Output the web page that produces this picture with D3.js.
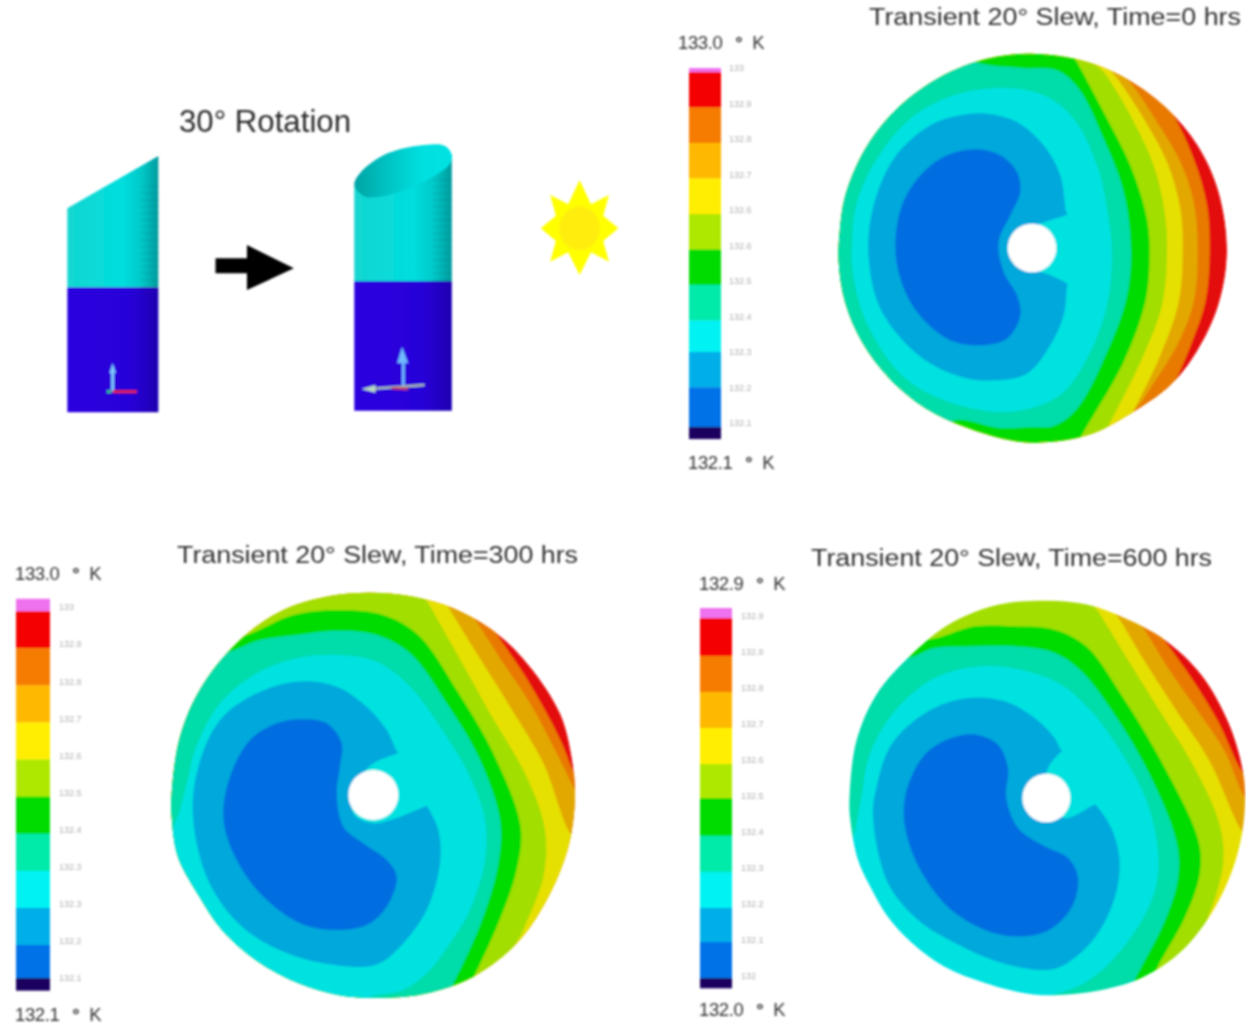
<!DOCTYPE html>
<html><head><meta charset="utf-8">
<script src="https://cdn.jsdelivr.net/npm/d3@7/dist/d3.min.js"></script>
<style>html,body{margin:0;background:#fff}svg{display:block}</style></head>
<body><svg id="c" width="1246" height="1024"></svg>
<script>
// ---- legend colours, hot to cold
const legendColors=["#ee72ee","#f40000","#f57c00","#ffb800","#ffee00","#aee800","#00dc00","#00eaaa","#00f2f2","#00aee8","#0072e8","#1a0060"];
const discColors=["#e40808","#e87a06","#e2a800","#e6e000","#a2de00","#00dc00","#00dcaa","#00e2e0","#00a8dc","#006ee0"];
// ---- legend level edges in kelvin
const edges0=[133.00,132.99,132.90,132.81,132.72,132.63,132.54,132.45,132.36,132.28,132.19,132.09,132.06];
const edges300=[133.02,132.99,132.90,132.81,132.72,132.63,132.54,132.45,132.36,132.27,132.18,132.10,132.07];
const edges600=[132.92,132.895,132.80,132.71,132.62,132.53,132.445,132.35,132.26,132.17,132.085,131.995,131.97];
const ticks0=[133,132.91,132.82,132.73,132.64,132.55,132.46,132.37,132.28,132.19,132.1];
const labels0=["133","132.9","132.8","132.7","132.6","132.6","132.5","132.4","132.3","132.2","132.1"];
const ticks300=[133,132.91,132.82,132.73,132.64,132.55,132.46,132.37,132.28,132.19,132.1];
const labels300=["133","132.9","132.8","132.7","132.6","132.5","132.4","132.3","132.3","132.2","132.1"];
const ticks600=[132.9,132.81,132.72,132.63,132.54,132.45,132.36,132.27,132.18,132.09,132];
const labels600=["132.9","132.8","132.8","132.7","132.6","132.5","132.4","132.3","132.2","132.1","132"];
// ---- titles
const titleTexts=["Transient 20° Slew, Time=0 hrs","Transient 20° Slew, Time=300 hrs","Transient 20° Slew, Time=600 hrs"];
const maxLabels=["133.0","133.0","132.9"];
const minLabels=["132.1","132.1","132.0"];
const rotationLabel="30° Rotation";
// ---- region beyond the disc, used to close the isotherms (crop units)
const offDisc=[[1420,1420],[-200,1420],[-200,-200],[700,-200]];
// ---- T=0 isotherms, crop units
const outline0=[[580,5],[720,22],[850,70],[985,165],[1082,280],[1145,420],[1170,600],[1144,760],[1079,900],[1000,1000],[880,1085],[750,1150],[600,1172],[516,1164],[384,1125],[264,1068],[156,978],[75,870],[24,750],[5,630],[8,540],[25,430],[85,290],[180,170],[310,75],[450,20]];
const iso0a=[[960,130],[1000,175],[1070,320],[1110,460],[1118,600],[1105,750],[1065,870],[1020,975],[980,1040]];
const iso0b=[[850,60],[890,105],[960,210],[1030,330],[1070,450],[1082,600],[1070,750],[1020,880],[920,1040],[880,1110]];
const iso0c=[[810,40],[845,85],[920,200],[990,330],[1030,470],[1037,600],[1025,750],[970,910],[885,1085],[850,1150]];
const iso0d=[[760,20],[800,60],[880,190],[950,340],[983,480],[990,600],[975,760],[915,920],[810,1130],[780,1190]];
const iso0e=[[690,-20],[720,30],[800,180],[880,340],[930,500],[938,620],[925,750],[860,930],[735,1150],[700,1220]];
const iso0f=[[400,25],[550,48],[660,55],[725,110],[800,260],[860,420],[882,600],[868,740],[810,900],[720,1070],[650,1122],[585,1125],[486,1128],[354,1105],[250,1170],[-100,600],[300,-60]];
const iso0g=[[500,108],[620,130],[710,200],[780,340],[815,500],[825,620],[810,760],[760,900],[680,1020],[585,1068],[486,1080],[336,1050],[204,978],[96,828],[50,680],[45,580],[60,450],[120,320],[220,200],[350,130]];
const iso0h=[[450,185],[540,210],[620,280],[670,370],[688,480],[692,486],[686,490],[640,505],[575,530],[510,590],[560,640],[640,670],[686,692],[692,697],[690,704],[680,790],[640,880],[570,965],[470,985],[384,978],[255,918],[135,780],[96,630],[105,480],[170,320],[280,220],[370,190]];
const iso0i=[[420,292],[490,310],[540,360],[550,420],[520,490],[485,570],[500,660],[540,730],[550,790],[510,860],[420,880],[330,860],[240,780],[190,680],[175,580],[195,460],[250,370],[330,310]];
// ---- T=300 isotherms, crop units
const outline300=[[600,8],[730,20],[850,55],[980,130],[1080,230],[1170,370],[1205,500],[1215,620],[1195,770],[1130,930],[1040,1060],[910,1160],[760,1212],[615,1224],[504,1215],[384,1179],[260,1112],[156,1020],[85,915],[24,801],[5,681],[5,610],[30,440],[95,290],[210,150],[340,60],[480,18]];
const iso300a=[[950,90],[985,140],[1060,250],[1130,370],[1180,470],[1212,550],[1260,620]];
const iso300b=[[880,50],[915,90],[1000,220],[1080,340],[1150,470],[1215,600],[1260,680]];
const iso300c=[[810,10],[840,60],[920,190],[1020,350],[1120,520],[1200,730],[1260,800]];
const iso300d=[[750,0],[775,40],[860,190],[960,370],[1070,560],[1125,720],[1120,860],[1060,1020],[1020,1120]];
const iso300e=[[200,140],[370,75],[500,60],[640,75],[745,135],[860,300],[970,490],[1052,710],[1040,840],[985,1000],[910,1165],[860,1270],[100,1320],[-100,600],[50,100]];
const iso300f=[[150,190],[270,150],[380,135],[500,122],[620,135],[720,190],[830,340],[930,510],[990,690],[985,820],[940,980],[850,1180],[800,1270],[100,1320],[-100,600],[0,150]];
const iso300g=[[380,205],[500,195],[620,215],[720,290],[830,440],[900,560],[945,690],[945,810],[900,960],[840,1060],[770,1150],[700,1200],[620,1216],[500,1245],[300,1190],[100,1000],[-10,790],[30,660],[55,560],[75,480],[150,340],[260,250]];
const iso300h=[[380,275],[500,290],[590,350],[650,420],[680,482],[685,487],[679,491],[610,520],[560,580],[550,670],[610,700],[762,651],[770,648],[775,655],[805,720],[810,820],[770,960],[690,1070],[615,1125],[456,1119],[315,1074],[204,999],[114,870],[69,681],[85,530],[150,390],[260,310]];
const iso300i=[[390,388],[470,400],[515,460],[510,530],[500,610],[520,710],[580,760],[650,810],[680,860],[650,950],[590,1005],[490,1020],[390,1000],[270,910],[190,790],[160,680],[180,560],[240,450],[320,400]];
// ---- T=600 isotherms, crop units
const outline600=[[600,8],[720,20],[830,60],[950,125],[1060,230],[1140,370],[1185,520],[1190,640],[1165,780],[1100,930],[1000,1060],[880,1140],[740,1180],[600,1192],[531,1186],[411,1155],[291,1107],[192,1035],[120,957],[72,876],[30,786],[6,657],[5,590],[25,430],[85,290],[190,170],[310,75],[450,20]];
const iso600a=[[920,90],[955,135],[1030,240],[1110,370],[1175,510],[1230,590]];
const iso600b=[[850,50],[885,90],[960,210],[1050,340],[1130,460],[1185,590],[1240,670]];
const iso600c=[[780,15],[815,65],[890,190],[980,330],[1085,490],[1175,690],[1230,770]];
const iso600d=[[720,0],[750,40],[830,170],[930,330],[1040,510],[1115,680],[1125,800],[1075,970],[1040,1030],[990,1110]];
const iso600e=[[230,125],[380,85],[500,85],[620,95],[715,145],[820,290],[940,490],[1052,730],[1055,830],[1010,960],[925,1115],[880,1230],[100,1270],[-100,600],[50,80]];
const iso600f=[[170,180],[260,150],[380,145],[500,145],[620,165],[700,220],[800,350],[900,520],[985,730],[990,840],[950,970],[860,1145],[820,1230],[100,1270],[-100,600],[0,100]];
const iso600g=[[400,205],[520,215],[640,260],[730,340],[830,480],[900,620],[930,760],[925,860],[880,970],[780,1100],[690,1165],[580,1195],[400,1190],[250,1090],[100,950],[5,800],[25,680],[40,600],[65,470],[140,340],[260,240]];
const iso600h=[[360,300],[470,310],[560,360],[620,420],[637,453],[642,458],[636,464],[600,510],[590,600],[650,660],[735,622],[742,620],[748,626],[790,690],[815,790],[800,900],[740,1020],[650,1100],[591,1116],[462,1095],[321,1035],[210,966],[120,855],[75,657],[85,570],[130,440],[240,340]];
const iso600i=[[385,410],[450,440],[480,510],[475,600],[510,690],[590,745],[660,780],[690,840],[670,930],[591,1002],[462,1011],[321,945],[222,825],[171,687],[175,580],[230,470],[310,420]];
// ---- central holes [cx, cy, rx, ry], crop units
const hole0=[585,588,73,73], hole300=[610,615,75,75], hole600=[595,600,72,73];
// ---- rotation sketch, crop units of the upper-left crop
const cylLeftTop=[[165,355],[388,198],[388,592],[165,592]];
const cylLeftBase=[[165,592],[388,592],[388,967],[165,967]];
const cylRightBody=[[868,290],[885,245],[950,190],[1040,165],[1090,168],[1107,195],[1107,573],[868,573]];
const cylRightBase=[[868,573],[1107,573],[1107,962],[868,962]];
const cylRightMouth=[[868,285],[885,245],[950,190],[1040,165],[1090,168],[1107,195],[1100,225],[1020,285],[950,315],[895,320]];
const stripeLevels=[250,270,290,310,330,350,370,390,410,430,450,470,490,510,530,550];
const bigArrow=[[528,505],[605,505],[605,465],[720,535],[605,600],[605,550],[528,550]];
const sunCenter=[1420,415];
const sunPoints=[[0,-145],[28,-72],[72,-100],[58,-38],[95,0],[58,38],[72,100],[28,72],[0,140],[-28,72],[-72,100],[-58,38],[-95,0],[-58,-38],[-72,-100],[-28,-72]];
const sunBody=[50,66];
// ---- triad arrows on the sketch [x1,y1,x2,y2,colour,width]
const triadLines=[[276,905,276,840,"#7fc8ff",6],[276,905,335,905,"#e0203a",6],[272,905,262,905,"#30c060",6],[988,890,988,800,"#70b8ff",6],[905,897,1040,885,"#a8b8b0",5],[960,895,1000,897,"#c03060",5]];
const triadHeads=[[[276,820],[268,850],[284,850]],[[985,770],[973,820],[1000,820]],[[885,897],[920,885],[920,908]]];
const triadHeadColors=["#7fc8ff","#70b8ff","#b8d8c0"];

const svg=d3.select("#c");
const defs=svg.append("defs");
const blur=defs.append("filter").attr("id","soft").attr("x","-5%").attr("y","-5%").attr("width","110%").attr("height","110%");
blur.append("feGaussianBlur").attr("stdDeviation",0.85);
const g=svg.append("g").attr("filter","url(#soft)");

const closed=d3.curveCatmullRomClosed.alpha(0.5);

function drawDisc(id,crop,outline,isos,hole){
  const x=d3.scaleLinear().domain([0,crop[2]*3]).range([crop[0],crop[0]+crop[2]]);
  const y=d3.scaleLinear().domain([0,crop[2]*3]).range([crop[1],crop[1]+crop[2]]);
  const ln=d3.line().x(d=>x(d[0])).y(d=>y(d[1])).curve(closed);
  defs.append("clipPath").attr("id",id).append("path").attr("d",ln(outline));
  const d=g.append("g").attr("clip-path",`url(#${id})`);
  d.append("path").attr("d",ln(outline)).attr("fill",discColors[0]);
  d.selectAll("path.iso").data(isos).join("path").attr("class","iso")
    .attr("d",p=>ln(p)).attr("fill",(p,i)=>discColors[i+1]);
  g.append("ellipse").attr("cx",x(hole[0])).attr("cy",y(hole[1])).attr("rx",x(hole[2])-x(0)).attr("ry",y(hole[3])-y(0)).attr("fill","#fff");
}
const wrap=a=>a.concat(offDisc);
drawDisc("d0",[837,52,392],outline0,[wrap(iso0a),wrap(iso0b),wrap(iso0c),wrap(iso0d),wrap(iso0e),iso0f,iso0g,iso0h,iso0i],hole0);
drawDisc("d300",[170,590,410],outline300,[wrap(iso300a),wrap(iso300b),wrap(iso300c),wrap(iso300d),iso300e,iso300f,iso300g,iso300h,iso300i],hole300);
drawDisc("d600",[848,598,398],outline600,[wrap(iso600a),wrap(iso600b),wrap(iso600c),wrap(iso600d),iso600e,iso600f,iso600g,iso600h,iso600i],hole600);

function drawLegend(edges,ticks,labels,vDomain,yRange,xL,xR,labelX,maxT,minT){
  const ys=d3.scaleLinear().domain(vDomain).range(yRange);
  const bands=d3.pairs(edges);
  g.append("g").selectAll("rect").data(bands).join("rect")
    .attr("x",xL).attr("width",xR-xL)
    .attr("y",d=>ys(d[0])).attr("height",d=>ys(d[1])-ys(d[0])+0.3)
    .attr("fill",(d,i)=>legendColors[i]);
  const ax=d3.axisRight(ys).tickValues(ticks).tickSize(0).tickPadding(0).tickFormat((d,i)=>labels[i]);
  const a=g.append("g").attr("transform",`translate(${labelX},0)`).call(ax);
  a.select(".domain").remove();
  a.selectAll("text").attr("font-family","Liberation Sans").attr("font-size",9).attr("fill","#b0b0b0");
  for(const t of [maxT,minT]){
    const tx=g.append("text").attr("x",t.x).attr("y",t.y).attr("font-family","Liberation Sans").attr("font-size",18.5).attr("fill","#333").attr("letter-spacing",-0.4);
    tx.append("tspan").text(t.s);
    tx.append("tspan").attr("dx",13).text("°").attr("font-weight","bold");
    tx.append("tspan").attr("dx",10).text("K");
  }
}
drawLegend(edges0,ticks0,labels0,[132.1,133],[423,68],689,721,729,{x:678,y:49,s:maxLabels[0]},{x:688,y:469,s:minLabels[0]});
drawLegend(edges300,ticks300,labels300,[132.1,133],[978,607],16,50,59,{x:15,y:580,s:maxLabels[1]},{x:15,y:1021,s:minLabels[1]});
drawLegend(edges600,ticks600,labels600,[132,132.9],[976,616],700,732,741,{x:699,y:590,s:maxLabels[2]},{x:699,y:1016,s:minLabels[2]});

const titles=[[869,25,372],[177,563,401],[811,566,401]];
titleTexts.forEach((t,i)=>{
  g.append("text").attr("x",titles[i][0]).attr("y",titles[i][1]).attr("font-family","Liberation Sans").attr("font-size",23)
   .attr("fill","#333").attr("textLength",titles[i][2]).attr("lengthAdjust","spacingAndGlyphs").text(t);
});
g.append("text").attr("x",179).attr("y",132).attr("font-family","Liberation Sans").attr("font-size",32)
 .attr("fill","#2c2c2c").attr("textLength",172).attr("lengthAdjust","spacingAndGlyphs").text(rotationLabel);

// ---- rotation sketch
const sx=d3.scaleLinear().domain([0,1568]).range([0,640]);
const sy=d3.scaleLinear().domain([0,1020]).range([90,430]);
const sl=d3.line().x(d=>sx(d[0])).y(d=>sy(d[1]));
const grad=(id,stops)=>{const l=defs.append("linearGradient").attr("id",id);
  stops.forEach(s=>l.append("stop").attr("offset",s[0]).attr("stop-color",s[1]));};
grad("cy",[[0,"#14d6d0"],[0.6,"#00dede"],[0.82,"#00c8c8"],[1,"#009a9c"]]);
grad("bl",[[0,"#2c00e0"],[0.7,"#2800d8"],[1,"#1e00b0"]]);
grad("mo",[[0,"#00a4a4"],[0.35,"#00c4c4"],[0.7,"#00e0e0"],[1,"#00e2e2"]]);
g.append("path").attr("d",sl(cylLeftTop)+"Z").attr("fill","url(#cy)");
g.append("path").attr("d",sl(cylLeftBase)+"Z").attr("fill","url(#bl)");
g.append("path").attr("d",sl(cylRightBody)+"Z").attr("fill","url(#cy)");
g.append("path").attr("d",sl(cylRightBase)+"Z").attr("fill","url(#bl)");
g.append("path").attr("d",d3.line().x(d=>sx(d[0])).y(d=>sy(d[1])).curve(closed)(cylRightMouth)).attr("fill","url(#mo)");
g.selectAll("line.st").data(stripeLevels).join("line").attr("class","st")
  .attr("x1",sx(345)).attr("x2",sx(388)).attr("y1",d=>sy(d+40)).attr("y2",d=>sy(d+40)).attr("stroke","#006a70").attr("stroke-opacity",0.22);
g.selectAll("line.sr").data(stripeLevels).join("line").attr("class","sr")
  .attr("x1",sx(1060)).attr("x2",sx(1107)).attr("y1",d=>sy(d+20)).attr("y2",d=>sy(d+20)).attr("stroke","#006a70").attr("stroke-opacity",0.22);
g.selectAll("line.tr").data(triadLines).join("line").attr("class","tr")
  .attr("x1",d=>sx(d[0])).attr("y1",d=>sy(d[1])).attr("x2",d=>sx(d[2])).attr("y2",d=>sy(d[3])).attr("stroke",d=>d[4]).attr("stroke-width",d=>d[5]/2);
g.selectAll("path.th").data(triadHeads).join("path").attr("class","th").attr("d",d=>sl(d)+"Z").attr("fill",(d,i)=>triadHeadColors[i]);
g.append("path").attr("d",sl(bigArrow)+"Z").attr("fill","#000");
// sun
g.append("path").attr("d",d3.line().x(d=>sx(sunCenter[0]+d[0])).y(d=>sy(sunCenter[1]+d[1]))(sunPoints)+"Z").attr("fill","#ffff00");
g.append("ellipse").attr("cx",sx(sunCenter[0])).attr("cy",sy(sunCenter[1])).attr("rx",sx(sunBody[0])-sx(0)).attr("ry",sy(sunBody[1])-sy(0)).attr("fill","#ffee10");
</script></body></html>
